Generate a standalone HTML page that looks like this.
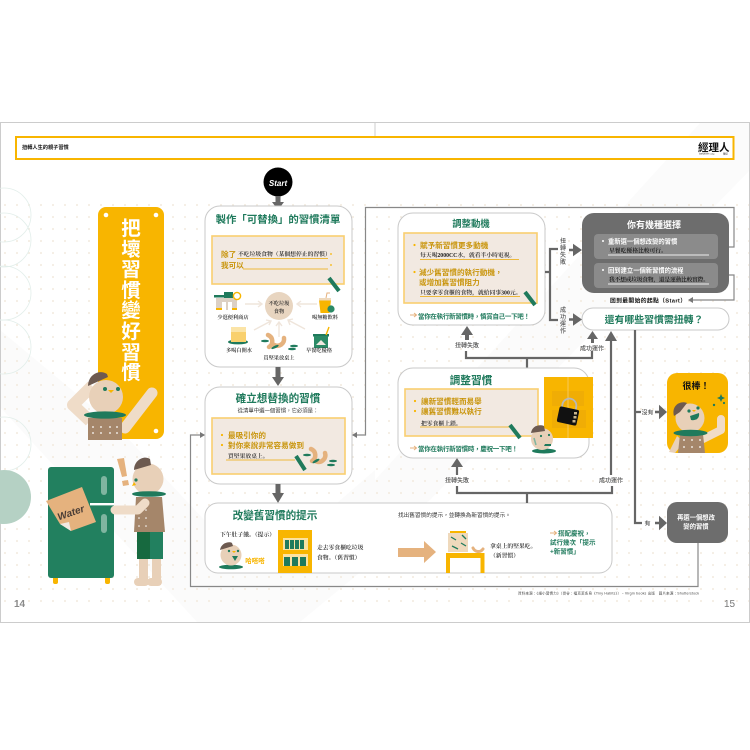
<!DOCTYPE html>
<html><head><meta charset="utf-8">
<style>
html,body{margin:0;padding:0;background:#fff}
svg{display:block;filter:blur(.25px)}
text{font-family:"Liberation Sans","Noto Sans CJK TC",sans-serif}
.t{font-weight:700;fill:#1f7a5c;text-anchor:middle}
.g{font-weight:700;fill:#c9950c;font-size:7.6px}
.h{font-family:"Liberation Serif","Noto Serif CJK SC",serif;font-size:5.8px;fill:#222;font-weight:600}
.c{font-family:"Liberation Serif","Noto Serif CJK SC",serif;font-size:5.2px;fill:#222;font-weight:600;text-anchor:middle}
.l{font-size:6px;fill:#555;text-anchor:middle;font-weight:500}
.w{font-size:6.3px;fill:#fff;font-weight:700}
.gr{font-size:6.5px;fill:#1f7a5c;font-weight:700}
.card{fill:#fff;stroke:#c9c9c9;stroke-width:1}
.in{fill:#f2e9e1;stroke:#f9cf6f;stroke-width:1.6}
.ln{fill:none;stroke:#666;stroke-width:2.2}
.th{fill:none;stroke:#888;stroke-width:1.2}
.pen{stroke:#1f7a5c;stroke-width:4}
</style></head><body>
<svg width="750" height="750" viewBox="0 0 750 750" xmlns="http://www.w3.org/2000/svg">
<defs>
<pattern id="d" width="12" height="12" patternUnits="userSpaceOnUse" x="-1" y="-5"><circle cx="6" cy="6" r="1.100" fill="#f4ede3"/></pattern>
<g id="body"><rect x="0" y="0" width="34" height="22" fill="#a5866a"/><g fill="#fff"><circle cx="5" cy="9" r=".9"/><circle cx="13" cy="9" r=".9"/><circle cx="22" cy="9" r=".9"/><circle cx="29" cy="9" r=".9"/><circle cx="5" cy="15" r=".9"/><circle cx="13" cy="15" r=".9"/><circle cx="22" cy="15" r=".9"/><circle cx="29" cy="15" r=".9"/></g></g>
<g id="nut"><path d="M0 0c5 2 6 9 1 12" fill="none" stroke="#e5b27e" stroke-width="4.500" stroke-linecap="round"/></g>
<ellipse id="leaf" rx="4" ry="1.300" fill="#1f7a5c"/>
</defs>
<rect width="750" height="750" fill="#fff"/>
<!-- page -->
<rect x="0.5" y="122.5" width="749" height="500" fill="#fff"/>
<polygon points="0,407 197,622 300,622 120,430 0,330" fill="#fbfbfb"/>
<polygon points="200,622 375,470 375,560 300,622" fill="#fbfbfb"/>
<polygon points="375,480 700,123 750,123 750,170 430,500 375,540" fill="#fbfbfb"/>
<rect x="0" y="196" width="750" height="410" fill="url(#d)"/>
<rect x="0.5" y="122.5" width="749" height="500" fill="none" stroke="#ccc"/>
<line x1="375" y1="122" x2="375" y2="137" stroke="#ccc"/>
<!-- circles -->
<g fill="none" stroke="#e2eeea" stroke-width=".8"><circle cx="4" cy="215" r="27"/><circle cx="4" cy="240" r="27"/><circle cx="4" cy="293" r="27"/><circle cx="4" cy="347" r="27"/><circle cx="4" cy="444" r="27"/></g>
<circle cx="4" cy="497" r="27" fill="#b5d1c4"/>
<!-- header -->
<rect x="16" y="137" width="717.5" height="22" fill="#fff" stroke="#f8b500" stroke-width="2"/>
<text x="22" y="149" font-size="5.2" font-weight="700" fill="#111">扭轉人生的親子習慣</text>
<text x="698" y="151" font-size="10.5" font-weight="700" fill="#111">經理人</text>
<text x="699" y="154.5" font-size="2" fill="#333">MANAGER today</text><text x="723" y="154.5" font-size="2.4" fill="#333">職場</text>

<!-- banner -->
<rect x="98" y="207" width="66" height="232" rx="8" fill="#f8b500"/>
<g fill="#fff"><circle cx="106" cy="215" r="2.3"/><circle cx="156" cy="215" r="2.3"/><circle cx="156" cy="431" r="2.3"/></g>
<g font-size="19.5" font-weight="700" fill="#fff" text-anchor="middle">
<text x="131" y="235">把</text><text x="131" y="256">壞</text><text x="131" y="276">習</text><text x="131" y="297">慣</text><text x="131" y="317">變</text><text x="131" y="338">好</text><text x="131" y="359">習</text><text x="131" y="379">慣</text></g>
<!-- person 1 -->
<path d="M125 428L152 393" stroke="#efdcc8" stroke-width="11" stroke-linecap="round"/>
<path d="M92 386L73 405L90 421" fill="none" stroke="#efdcc8" stroke-width="12" stroke-linejoin="round"/>
<circle cx="106" cy="397" r="17" fill="#e8d0b8"/>
<path d="M88 386C88 374 100 369 107 374L108 377L88 386Z" fill="#6d5a50"/>
<circle cx="105" cy="389" r="2" fill="#1f7a5c"/><circle cx="118" cy="389" r="2" fill="#1f7a5c"/>
<path d="M108 390h6l-3 3z" fill="#f8b500"/>
<use href="#body" x="88" y="418" />
<ellipse cx="105" cy="415" rx="21" ry="3.600" fill="#1f7a5c"/>
<!-- fridge -->
<rect x="53" y="576" width="5" height="8" rx="2" fill="#f8b500"/><rect x="105" y="576" width="5" height="8" rx="2" fill="#f8b500"/>
<rect x="48" y="467" width="66" height="111" rx="3" fill="#22805f"/>
<rect x="90" y="503" width="24" height="2.400" fill="#fff"/>
<rect x="101" y="476" width="6" height="19" rx="3" fill="#7fb5a0"/><rect x="101" y="514" width="6" height="19" rx="3" fill="#7fb5a0"/>
<polygon points="46,501 82,487 96,522 71,531 60,524" fill="#e5b27e"/>
<polygon points="60,524 71,531 69,522" fill="#f2e9e1"/>
<text x="71" y="516" font-size="10" font-weight="700" font-style="italic" fill="#4a3d36" text-anchor="middle" transform="rotate(-19 71 513)">Water</text>
<!-- person 2 -->
<polygon points="117,459 124,458 127,476 122,477" fill="#e5b27e"/><polygon points="122,481 128,480 129,485 123,486" fill="#e5b27e"/>
<rect x="139" y="558" width="9" height="27" fill="#e8d0b8"/><rect x="152" y="558" width="9" height="27" fill="#e8d0b8"/>
<rect x="134" y="578" width="15" height="8" rx="4" fill="#e8d0b8"/><rect x="147" y="578" width="15" height="8" rx="4" fill="#e8d0b8"/>
<rect x="137" y="531" width="13" height="28" fill="#17693f"/><rect x="150" y="531" width="13" height="28" fill="#22805f"/>
<circle cx="148" cy="479" r="15.500" fill="#e8d0b8"/>
<path d="M134 470C134 460 144 455 150 459L151 465Z" fill="#6d5a50"/>
<circle cx="136" cy="480" r="1.600" fill="#1f7a5c"/><path d="M134 482l-2 4 4-1z" fill="#f8b500"/>
<polygon points="136,497 162,497 165,532 134,532" fill="#a5866a"/>
<g fill="#fff"><circle cx="139" cy="510" r=".8"/><circle cx="146" cy="510" r=".8"/><circle cx="139" cy="518" r=".8"/><circle cx="146" cy="518" r=".8"/><circle cx="139" cy="526" r=".8"/><circle cx="146" cy="526" r=".8"/></g>
<ellipse cx="149" cy="494" rx="17" ry="2.800" fill="#1f7a5c"/>
<path d="M145 503L138 510H115" fill="none" stroke="#efdcc8" stroke-width="9" stroke-linecap="round" stroke-linejoin="round"/>
<text x="14" y="607" font-size="10" font-weight="700" fill="#8a8a8a">14</text>

<!-- connector lines thin -->
<path class="th" d="M205 435H190.500V586.500H698V543"/>
<path class="th" d="M352 435H365.500V207.500H734V247H718"/>
<path class="th" d="M718 275H734V300H690"/>
<polygon points="205,435 200,432 200,438" fill="#777"/>
<polygon points="352,435 357,432 357,438" fill="#777"/>
<polygon points="688,300 693,297 693,303" fill="#777"/>

<!-- start -->
<circle cx="278" cy="182" r="14.500" fill="#000"/>
<text x="278" y="186" font-size="8" font-weight="700" font-style="italic" fill="#fff" text-anchor="middle">Start</text>
<path d="M275.500 196h5v6h3.500l-6 8-6-8h3.500z" fill="#666"/>

<!-- box 1 -->
<rect class="card" x="205" y="206" width="147" height="161" rx="15"/>
<text class="t" x="278" y="223" font-size="10.400">製作「可替換」的習慣清單</text>
<rect class="in" x="212" y="236" width="132" height="48"/>
<text class="g" x="221" y="257">除了</text>
<text class="h" x="238" y="256">不吃垃圾食物（某個想停止的習慣）</text>
<line x1="237" y1="258.500" x2="328" y2="258.500" stroke="#edb93b"/><circle cx="331" cy="254" r=".9" fill="#f8b500"/>
<text class="g" x="221" y="268">我可以</text>
<line x1="243" y1="269" x2="328" y2="269" stroke="#edb93b"/><circle cx="331" cy="265" r=".9" fill="#f8b500"/>
<line class="pen" x1="329" y1="278" x2="339" y2="291"/>
<!-- center -->
<circle cx="279" cy="306" r="14" fill="#e8d5c0"/>
<text class="c" x="279" y="305">不吃垃圾</text><text class="c" x="279" y="313">食物</text>
<g fill="none" stroke="#efe5db" stroke-width="1.400">
<path d="M245 304H262M258 301l4 3-4 3"/><path d="M317 304H297M301 301l-4 3 4 3"/>
<path d="M254 330L271 321M266 320l5 1-2 4"/><path d="M279 337V322M276 326l3-4 3 4"/><path d="M305 329L288 320M293 319l-5 1 2 5"/></g>
<!-- store -->
<rect x="214" y="295" width="24" height="2.500" fill="#1f7a5c"/><rect x="224" y="292" width="9" height="6" fill="#1f7a5c"/>
<rect x="216" y="298" width="21" height="12" fill="#dcd0c4"/><rect x="222" y="302" width="4" height="8" fill="#fff"/><rect x="228" y="302" width="4" height="8" fill="#fff"/>
<rect x="216" y="308" width="6" height="2" fill="#f8b500"/><rect x="232" y="308" width="5" height="2" fill="#f8b500"/>
<circle cx="237" cy="296" r="3.600" fill="#fff" stroke="#f8b500" stroke-width="1.400"/>
<text class="c" x="233" y="319">少逛便利商店</text>
<!-- drink -->
<path d="M319 300h12l-1.500 13h-9z" fill="#f8b500"/><rect x="319" y="298" width="12" height="2.500" fill="#efd9bc"/><path d="M326 298l1-5h3" fill="none" stroke="#e5b27e"/>
<circle cx="331" cy="309" r="3.600" fill="#2b8a66"/>
<text class="c" x="325" y="319">喝無糖飲料</text>
<!-- water -->
<ellipse cx="238" cy="342" rx="10" ry="2.400" fill="#1f7a5c"/><rect x="231" y="327" width="15" height="15" fill="#f9d06d"/><rect x="231" y="327" width="15" height="5" fill="#fbe4a7"/>
<text class="c" x="239" y="352">多喝白開水</text>
<!-- nuts -->
<use href="#nut" x="268" y="335"/><use href="#nut" x="284" y="338" transform="rotate(60 284 338)"/>
<use href="#leaf" x="265" y="341"/><use href="#leaf" x="275" y="347" transform="rotate(-25 275 347)"/><use href="#leaf" x="292" y="349"/><use href="#leaf" x="294" y="346"/>
<text class="c" x="279" y="359.500">買堅果放桌上</text>
<!-- yogurt -->
<rect x="313" y="334" width="16" height="2.500" fill="#1f7a5c"/><rect x="314" y="336" width="14" height="12" fill="#2b8a66"/><path d="M316 345l5-5 5 5z" fill="#f2e9e1"/><line x1="326" y1="335" x2="329" y2="327" stroke="#f8b500" stroke-width="1.400"/>
<text class="c" x="319" y="352">早餐吃優格</text>

<path d="M275.500 367h5v10h3.500l-6 9-6-9h3.500z" fill="#666"/>

<!-- box 2 -->
<rect class="card" x="205" y="387" width="147" height="97" rx="15"/>
<text class="t" x="278" y="402" font-size="10.600">確立想替換的習慣</text>
<text x="278" y="412.500" font-size="5.400" fill="#333" text-anchor="middle">從清單中選一個習慣，它必須是：</text>
<rect class="in" x="212" y="418" width="133" height="56"/>
<g fill="#f8b500"><circle cx="222" cy="435" r="1.100"/><circle cx="222" cy="445" r="1.100"/></g>
<text class="g" x="228" y="438">最吸引你的</text>
<text class="g" x="228" y="448">對你來說非常容易做到</text>
<text class="h" x="228" y="458">買堅果放桌上。</text>
<line x1="226" y1="460" x2="295" y2="460" stroke="#edb93b"/>
<line class="pen" x1="296" y1="456" x2="305" y2="470"/>
<use href="#nut" x="311" y="449"/><use href="#nut" x="325" y="453" transform="rotate(50 325 453)"/><use href="#leaf" x="307" y="455"/><use href="#leaf" x="316" y="461" transform="rotate(-30 316 461)"/><use href="#leaf" x="333" y="461"/><use href="#leaf" x="331" y="465"/>
<path d="M275.500 484h5v9h3.500l-6 10-6-10h3.500z" fill="#666"/>

<!-- box 3 -->
<rect class="card" x="205" y="503" width="407" height="70" rx="13"/>
<text class="t" x="275" y="519" font-size="10.600">改變舊習慣的提示</text>
<text class="h" x="220" y="536.500">下午肚子餓。（提示）</text>
<ellipse cx="231" cy="567" rx="12" ry="2.300" fill="#1f7a5c"/>
<circle cx="231" cy="555" r="10.500" fill="#e8d0b8"/>
<path d="M220 550C221 543 229 541 232 543L233 546Z" fill="#6d5a50"/>
<circle cx="229" cy="551" r="1.200" fill="#1f7a5c"/><circle cx="238" cy="551" r="1.200" fill="#1f7a5c"/>
<path d="M232 556h6l-3 5z" fill="#1f7a5c"/><path d="M232 551h4l-2 2z" fill="#f8b500"/>
<text x="255" y="563" font-size="6.500" font-weight="700" fill="#f8b500" text-anchor="middle">哈嗒嗒</text>
<rect x="278" y="530" width="34" height="43" fill="#f8b500"/>
<rect x="283" y="538" width="25" height="12" fill="#fbe2a0"/><rect x="283" y="554" width="25" height="12" fill="#fbe2a0"/>
<g fill="#1f7a5c"><rect x="285" y="540" width="4" height="9"/><rect x="290" y="540" width="4" height="9"/><rect x="295" y="540" width="4" height="9"/><rect x="300" y="540" width="4" height="9"/><rect x="284" y="557" width="6" height="9"/><rect x="292" y="557" width="6" height="9"/><rect x="300" y="557" width="6" height="9"/></g>
<text class="h" x="317" y="549.500">走去零食櫃吃垃圾</text>
<text class="h" x="317" y="559.500">食物。（舊習慣）</text>
<text x="398" y="517" font-size="5.650" fill="#333">找出舊習慣的提示，並轉換為新習慣的提示。</text>
<polygon points="398,548 424,548 424,541 436,552 424,563 424,557 398,557" fill="#e5b27e"/>
<rect x="448" y="533" width="20" height="19" fill="#efd9bc"/><rect x="450" y="531" width="16" height="2" fill="#f8b500"/>
<g stroke="#1f7a5c" stroke-width="1.300"><line x1="451" y1="537" x2="456" y2="540"/><line x1="462" y1="535" x2="466" y2="539"/><line x1="452" y1="546" x2="458" y2="549"/><line x1="461" y1="543" x2="466" y2="546"/></g>
<path d="M473 548c2 4 7 5 10 1" fill="none" stroke="#e5b27e" stroke-width="3" stroke-linecap="round"/>
<path d="M446 553h38.500v20h-4v-15h-30.500v15h-4z" fill="#f8b500"/>
<text class="h" x="490" y="548">拿桌上的堅果吃。</text>
<text class="h" x="490" y="557.500">（新習慣）</text>
<path d="M550 533h6M554 531l2.500 2-2.500 2" fill="none" stroke="#e5b27e"/>
<text class="gr" x="558" y="535.500">搭配慶祝，</text>
<text class="gr" x="550" y="544.500">試行幾次「提示</text>
<text class="gr" x="550" y="553.500">+新習慣」</text>

<!-- box motivation -->
<rect class="card" x="398" y="213" width="147" height="112" rx="15"/>
<text class="t" x="471" y="227" font-size="9.400">調整動機</text>
<rect class="in" x="404" y="233" width="133" height="70"/>
<g fill="#f8b500"><circle cx="414.500" cy="245" r="1.100"/><circle cx="414.500" cy="272" r="1.100"/></g>
<text class="g" x="420" y="248">賦予新習慣更多動機</text>
<text class="h" x="420" y="257">每天喝2000CC水，就看半小時電視。</text>
<line x1="420" y1="259.500" x2="519" y2="259.500" stroke="#edb93b"/>
<text class="g" x="419" y="275">減少舊習慣的執行動機，</text>
<text class="g" x="419" y="285">或增加舊習慣阻力</text>
<text class="h" x="420" y="294.500">只要拿零食櫃的食物，就給同事300元。</text>
<line x1="420" y1="296.500" x2="520" y2="296.500" stroke="#edb93b"/>
<line class="pen" x1="525" y1="292" x2="535" y2="305"/>
<path d="M410 315h6M414 313l2.500 2-2.500 2" fill="none" stroke="#e5b27e"/>
<text class="gr" x="418" y="318.500" font-size="5.900" textLength="112">當你在執行新習慣時，慎賞自己一下吧！</text>

<!-- dark box -->
<rect x="582" y="213" width="147" height="80" rx="12" fill="#6d6d6d"/>
<text x="654" y="228" font-size="9" font-weight="700" fill="#fff" text-anchor="middle">你有幾種選擇</text>
<rect x="594" y="234" width="124" height="25" rx="4" fill="#8b8b8b"/>
<rect x="594" y="263" width="124" height="25" rx="4" fill="#8b8b8b"/>
<circle cx="603" cy="241" r="1" fill="#fff"/><circle cx="603" cy="270" r="1" fill="#fff"/>
<text class="w" x="608" y="243.500">重新選一個想改變的習慣</text>
<text class="h" x="609" y="252.500" style="fill:#111">早餐吃優格比較可行。</text>
<line x1="608" y1="255" x2="709" y2="255" stroke="#eee"/>
<text class="w" x="608" y="272.500">回到建立一個新習慣的流程</text>
<text class="h" x="609" y="281.500" style="fill:#111" textLength="100">我不想戒垃圾食物，還是運動比較實際。</text>
<line x1="608" y1="284" x2="709" y2="284" stroke="#eee"/>
<text x="610" y="302.500" font-size="5.800" font-weight="700" fill="#111" textLength="76">回到最開始的起點（Start）</text>
<rect class="card" x="582" y="308" width="147" height="22" rx="11"/>
<text class="t" x="654" y="323" font-size="9.900">還有哪些習慣需扭轉？</text>

<!-- right bracket -->
<path class="ln" d="M545 272H550V249H558M550 272V320H558"/>
<g><text class="l" x="563" y="243">扭</text><text class="l" x="563" y="250">轉</text><text class="l" x="563" y="257">失</text><text class="l" x="563" y="264">敗</text>
<text class="l" x="563" y="312">成</text><text class="l" x="563" y="319">功</text><text class="l" x="563" y="326">運</text><text class="l" x="563" y="333">作</text></g>
<path d="M569 248.800h4v-5l9 6.200-9 6.200v-5h-4z" fill="#666"/>
<path d="M569 318.300h4v-5l9 6.200-9 6.200v-5h-4z" fill="#666"/>

<!-- mid bracket top -->
<path d="M465 340v-5h-4l6-9 6 9h-4v5z" fill="#666"/>
<text class="l" x="467" y="347.500">扭轉失敗</text>
<path class="ln" d="M466 351V358H592V351M527 358V368"/>
<text class="l" x="592" y="350.500">成功運作</text>
<path d="M591 343v-4h-4l5.500-8 5.500 8h-4v4z" fill="#666"/>
<!-- long arrow -->
<path class="ln" d="M611 341V475"/>
<polygon points="611,331 605,341 617,341" fill="#666"/>
<text class="l" x="611" y="482.500">成功運作</text>
<path class="ln" d="M457 486V493H612V486M527 493V503"/>
<path class="ln" d="M457 467V475"/>
<polygon points="457,458 451,467 463,467" fill="#666"/>
<text class="l" x="457" y="482.500">扭轉失敗</text>

<!-- right vertical -->
<path class="ln" d="M635 330V523H642M635 412H641"/>
<text class="l" x="647.500" y="414.500">沒有</text>
<text class="l" x="647.500" y="525.500">有</text>
<path d="M655 410.800h4v-6l8 7.200-8 7.200v-6h-4z" fill="#666"/>
<path d="M655 521.800h4v-6l8 7.200-8 7.200v-6h-4z" fill="#666"/>

<!-- box habit -->
<rect class="card" x="398" y="368" width="191" height="90" rx="15"/>
<text class="t" x="471" y="384" font-size="10.700">調整習慣</text>
<rect class="in" x="405" y="389" width="133" height="47"/>
<g fill="#f8b500"><circle cx="415" cy="401" r="1.100"/><circle cx="415" cy="411" r="1.100"/></g>
<text class="g" x="421" y="404">讓新習慣輕而易舉</text>
<text class="g" x="421" y="414">讓舊習慣難以執行</text>
<text class="h" x="421" y="425.500">把零食櫃上鎖。</text>
<line x1="420" y1="427" x2="510" y2="427" stroke="#edb93b"/>
<line class="pen" x1="510" y1="425" x2="520" y2="438"/>
<path d="M410 448h6M414 446l2.500 2-2.500 2" fill="none" stroke="#e5b27e"/>
<text class="gr" x="418" y="451" font-size="5.900" textLength="100">當你在執行新習慣時，慶祝一下吧！</text>
<!-- cabinet -->
<rect x="544" y="377" width="49" height="61" fill="#f8b500"/>
<rect x="552" y="391" width="32" height="15" fill="#f0ad05"/><rect x="552" y="410" width="34" height="18" fill="#f0ad05"/>
<line x1="568" y1="377" x2="568" y2="438" stroke="#f9cf6f" stroke-width=".8"/>
<path d="M561 409v-4a7 7 0 0 1 14 1v4" fill="none" stroke="#b8b8b8" stroke-width="1.800" transform="rotate(8 568 415)"/>
<rect x="558" y="408" width="20" height="16" rx="2" fill="#111" transform="rotate(12 568 416)"/>
<g fill="#c9b58c"><rect x="574" y="412" width="3" height="2.500"/><rect x="573.500" y="416" width="3" height="2.500"/><rect x="572.500" y="420" width="3" height="2.500"/></g>
<!-- person sad -->
<ellipse cx="544" cy="451" rx="12" ry="2.500" fill="#1f7a5c"/>
<circle cx="542" cy="439" r="11" fill="#e8d0b8"/>
<path d="M531 433C532 426 539 424 544 426L545 431Z" fill="#6d5a50"/>
<circle cx="541" cy="436" r="1.100" fill="#1f7a5c"/><circle cx="549" cy="435" r="1.100" fill="#1f7a5c"/>
<path d="M545 444h6v2h-7z" fill="#1f7a5c"/><path d="M534 438l2 7" stroke="#7fb5a0" stroke-width="1.500"/>

<!-- great -->
<rect x="667" y="373" width="61" height="80" rx="10" fill="#f8b500"/>
<text x="696" y="389" font-size="9" font-weight="700" fill="#111" text-anchor="middle">很棒！</text>
<path d="M721 419V430L703 439" fill="none" stroke="#f1dcc6" stroke-width="8" stroke-linecap="round" stroke-linejoin="round"/>
<polygon points="677,436 669,452 675,453 684,442" fill="#e8d0b8"/>
<circle cx="690" cy="418" r="14.500" fill="#e8d0b8"/>
<path d="M674 416C671 406 680 400 687 403L680 412Z" fill="#6d5a50"/>
<circle cx="689" cy="411" r="1.600" fill="#1f7a5c"/><circle cx="698" cy="408" r="1.600" fill="#1f7a5c"/>
<path d="M690 416l9-3c1 5-3 8-8 7z" fill="#1f7a5c"/><path d="M692 410h4l-2 2z" fill="#f8b500"/>
<polygon points="680,434 703,434 705,453 678,453" fill="#a5866a"/>
<g fill="#fff"><circle cx="684" cy="440" r=".9"/><circle cx="692" cy="440" r=".9"/><circle cx="700" cy="440" r=".9"/><circle cx="684" cy="447" r=".9"/><circle cx="692" cy="447" r=".9"/><circle cx="700" cy="447" r=".9"/></g>
<ellipse cx="690.500" cy="433" rx="17" ry="3.200" fill="#1f7a5c"/>
<g fill="#1f7a5c"><path d="M721 394l1.200 2.800 2.800 1.200-2.800 1.200-1.200 2.800-1.200-2.800-2.800-1.200 2.800-1.200z"/><circle cx="714" cy="405" r="1.200"/><circle cx="724" cy="403" r="1.100"/></g>

<!-- again -->
<rect x="667" y="502" width="61" height="41" rx="10" fill="#6d6d6d"/>
<text class="w" x="696" y="519.500" text-anchor="middle" font-size="6">再選一個想改</text>
<text class="w" x="696" y="528.500" text-anchor="middle" font-size="6">變的習慣</text>

<!-- footer -->
<text x="518" y="594.500" font-size="3.500" fill="#444" textLength="181">資料來源：《細小習慣力》（譽谷：福克蕾系島《Tiny Habits》）、Virgin books 出版　圖片來源：Shutterstock</text>
<text x="724" y="607" font-size="10" font-weight="500" fill="#777">15</text>
</svg>
</body></html>
